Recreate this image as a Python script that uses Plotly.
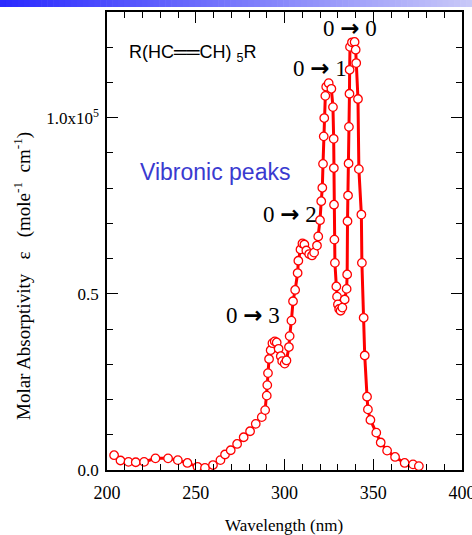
import plotly.graph_objects as go

# Wavelength (nm)
wavelength = [204.0, 207.6, 212.1, 216.2, 220.9, 227.3, 234.4, 239.9, 245.3, 251.0,
              255.2, 259.7, 263.9, 266.5, 269.7, 273.3, 277.0, 280.6, 283.8, 287.2,
              289.1, 290.0, 290.3, 290.7, 291.3, 292.2, 293.2, 294.5, 295.6, 296.7,
              297.9, 298.7, 300.1, 301.1, 302.5, 302.9, 303.9, 304.8, 306.0, 307.4,
              307.8, 309.0, 310.1, 311.2, 312.3, 313.9, 315.5, 316.7, 318.3, 319.0,
              320.0, 320.7, 321.3, 321.7, 322.1, 322.4, 323.0, 323.5, 324.9, 326.4,
              327.3, 327.7, 327.8, 327.9, 328.1, 328.4, 329.2, 329.6, 330.1, 330.8,
              331.6, 332.6, 333.9, 335.0, 335.3, 335.5, 335.8, 336.1, 336.3, 336.6,
              336.7, 336.9, 338.0, 339.5, 340.1, 340.4, 341.4, 341.9, 343.3, 343.6,
              344.6, 345.2, 346.5, 347.0, 348.4, 351.7, 354.2, 357.8, 362.3, 367.7,
              372.4, 375.7]
# Molar absorptivity (x 1e5)
absorptivity = [0.042, 0.027, 0.023, 0.022, 0.023, 0.033, 0.033, 0.028, 0.020, 0.009,
                0.006, 0.014, 0.028, 0.044, 0.056, 0.074, 0.093, 0.110, 0.131, 0.150,
                0.170, 0.211, 0.241, 0.275, 0.315, 0.340, 0.360, 0.365, 0.362, 0.344,
                0.323, 0.309, 0.302, 0.311, 0.349, 0.380, 0.424, 0.479, 0.511, 0.559,
                0.594, 0.626, 0.643, 0.640, 0.623, 0.613, 0.609, 0.617, 0.637, 0.663,
                0.709, 0.763, 0.801, 0.869, 0.947, 0.999, 1.062, 1.088, 1.098, 1.082,
                1.030, 0.940, 0.857, 0.753, 0.654, 0.588, 0.521, 0.492, 0.470, 0.457,
                0.452, 0.461, 0.484, 0.514, 0.555, 0.706, 0.779, 0.870, 0.974, 1.068,
                1.136, 1.201, 1.214, 1.215, 1.193, 1.155, 1.053, 0.854, 0.725, 0.588,
                0.432, 0.325, 0.208, 0.172, 0.142, 0.106, 0.078, 0.055, 0.037, 0.020,
                0.016, 0.011]

x_ticks = [200, 250, 300, 350, 400]
y_ticks = [0.0, 0.5, 1.0]
y_ticktext = ["0.0", "0.5", "1.0x10<sup>5</sup>"]

ARROW = "<span style='font-family:DejaVu Sans'><b>→</b></span>"
peak_labels = ["0 %s 0" % ARROW, "0 %s 1" % ARROW, "0 %s 2" % ARROW, "0 %s 3" % ARROW]

SERIF = "Liberation Serif"
SANS = "Liberation Sans"

fig = go.Figure()
fig.add_trace(go.Scatter(
    x=wavelength, y=absorptivity, mode="lines+markers",
    line=dict(color="#ff0000", width=3),
    marker=dict(size=8.5, color="white", line=dict(color="#ff0000", width=1.3)),
    showlegend=False, hoverinfo="skip",
))

W, H = 472, 535
L, R, T, B = 107, 10, 12, 65
pw, ph = W - L - R, H - T - B


def px(xp):
    return (xp - L) / pw


def py(yp):
    return (H - B - yp) / ph


# top gradient bar
shapes = []
n = 80
c0 = (42, 42, 255)
c1 = (200, 200, 248)
for i in range(n):
    f = i / (n - 1)
    c = tuple(int(round(c0[k] + (c1[k] - c0[k]) * f)) for k in range(3))
    x0 = W * i / n
    x1 = W * (i + 1) / n + 0.6
    shapes.append(dict(type="rect", xref="paper", yref="paper",
                       x0=px(x0), x1=px(x1), y0=py(7), y1=py(0),
                       fillcolor="rgb(%d,%d,%d)" % c, line=dict(width=0),
                       layer="above"))

NB = "&nbsp;"
ytitle = ("Molar Absorptivity" + NB * 3 + "ε" + NB * 3 +
          "(mole<sup>-1</sup>" + NB * 2 + "cm<sup>-1</sup>)")

annotations = [
    dict(text="R(HC══CH) <sub>5</sub>R", x=px(127), y=py(53), xanchor="left", yanchor="middle",
         font=dict(family=SANS, size=18, color="black")),
    dict(text="Vibronic peaks", x=px(215), y=py(172), xanchor="center", yanchor="middle",
         font=dict(family=SANS, size=23, color="#3a3ad0")),
    dict(text=peak_labels[0], x=px(350), y=py(28), xanchor="center", yanchor="middle",
         font=dict(family=SERIF, size=23, color="black")),
    dict(text=peak_labels[1], x=px(320), y=py(68), xanchor="center", yanchor="middle",
         font=dict(family=SERIF, size=23, color="black")),
    dict(text=peak_labels[2], x=px(290), y=py(214), xanchor="center", yanchor="middle",
         font=dict(family=SERIF, size=23, color="black")),
    dict(text=peak_labels[3], x=px(253), y=py(315), xanchor="center", yanchor="middle",
         font=dict(family=SERIF, size=23, color="black")),
    dict(text=ytitle, textangle=-90,
         x=px(22), y=py(276), xanchor="center", yanchor="middle",
         font=dict(family=SERIF, size=19, color="black")),
    dict(text="Wavelength (nm)", x=px(284), y=py(525), xanchor="center", yanchor="middle",
         font=dict(family=SERIF, size=17, color="black")),
]
for a in annotations:
    a.update(xref="paper", yref="paper", showarrow=False)

fig.update_layout(
    width=W, height=H,
    margin=dict(l=L, r=R, t=T, b=B, pad=0, autoexpand=False),
    paper_bgcolor="white", plot_bgcolor="white",
    shapes=shapes, annotations=annotations,
    xaxis=dict(range=[200, 400], tickmode="array", tickvals=x_ticks, automargin=False,
               ticks="inside", ticklen=11, tickwidth=1.3, tickcolor="black",
               showline=True, linecolor="black", linewidth=1.5, mirror="ticks",
               showgrid=False, zeroline=False, ticklabelstandoff=6,
               ticklabeloverflow="allow",
               tickfont=dict(family=SERIF, size=18, color="black"),
               minor=dict(tickmode="linear", tick0=200, dtick=10, ticks="inside",
                          ticklen=6, tickwidth=1.1, tickcolor="black", showgrid=False)),
    yaxis=dict(range=[0, 1.3], tickmode="array", tickvals=y_ticks, ticktext=y_ticktext,
               automargin=False,
               ticks="inside", ticklen=11, tickwidth=1.3, tickcolor="black",
               showline=True, linecolor="black", linewidth=1.5, mirror="ticks",
               showgrid=False, zeroline=False, ticklabelstandoff=3,
               ticklabeloverflow="allow",
               tickfont=dict(family=SERIF, size=17, color="black"),
               minor=dict(tickmode="linear", tick0=0, dtick=0.1, ticks="inside",
                          ticklen=6, tickwidth=1.1, tickcolor="black", showgrid=False)),
)

fig.write_html("out.html", config={"displayModeBar": False},
               post_script="document.body.style.margin='0';document.body.style.padding='0';")
